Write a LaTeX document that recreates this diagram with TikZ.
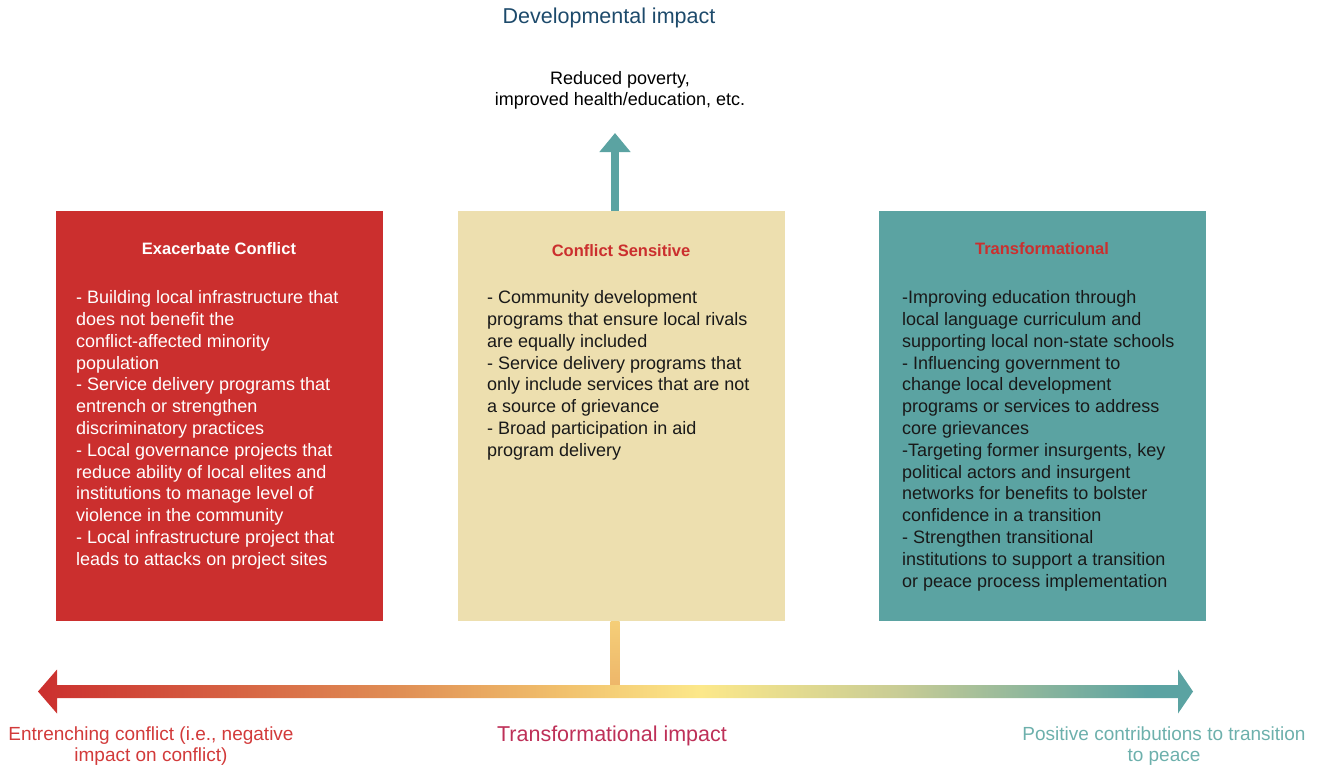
\documentclass[tikz,border=0pt]{standalone}
\usepackage{fontspec}
\setmainfont{Liberation Sans}
\usetikzlibrary{arrows.meta}

\definecolor{conflictred}{HTML}{CB2F2E}
\definecolor{sensitivesand}{HTML}{EDDFAF}
\definecolor{peaceteal}{HTML}{5BA3A2}
\definecolor{devblue}{HTML}{1D4A6B}
\definecolor{transcrimson}{HTML}{BE3058}
\definecolor{labelred}{HTML}{D23A3A}
\definecolor{labelteal}{HTML}{6DB0AC}
\definecolor{impactorange}{HTML}{E08F55}
\definecolor{impactgold}{HTML}{F1C06C}
\definecolor{impactyellow}{HTML}{FCE88A}
\definecolor{impactsage}{HTML}{C8CC95}
\definecolor{bartop}{HTML}{F5CE78}
\definecolor{barbottom}{HTML}{EDB468}

\pgfdeclarehorizontalshading{impactbar}{100bp}{color(0bp)=(conflictred);
  color(25bp)=(conflictred); color(40.7bp)=(impactorange);
  color(47.6bp)=(impactgold); color(53.7bp)=(impactyellow);
  color(62.3bp)=(impactsage); color(73bp)=(peaceteal);
  color(75bp)=(peaceteal); color(100bp)=(peaceteal)}

\begin{document}
\begin{tikzpicture}[
      x=1pt, y=-1pt,
      box/.style={rectangle, anchor=north west, inner sep=0pt,
        minimum width=327pt, minimum height=410pt},
      boxtitle/.style={font=\fontsize{16.5}{20}\selectfont\bfseries},
      boxtext/.style={anchor=north west, align=left, inner sep=0pt,
        font=\fontsize{18}{21.8}\selectfont},
      axislabel/.style={font=\fontsize{21.5}{25}\selectfont},
      endlabel/.style={align=center, font=\fontsize{18}{21}\selectfont},
      sidelabel/.style={align=center, font=\fontsize{19}{21}\selectfont},
      uparrow/.style={draw=peaceteal, line width=8pt,
        -{Triangle[width=30pt,length=19pt]}}
    ]
    \useasboundingbox (0,0) rectangle (1327,766);
    % boxes
    \path (56,211)  node(exbox) [box, fill=conflictred] {}
          (458,211) node(csbox) [box, fill=sensitivesand] {}
          (879,211) node(trbox) [box, fill=peaceteal] {};
    \path (219,249)  node(extitle) [boxtitle, text=white] {Exacerbate Conflict}
          (621,251)  node(cstitle) [boxtitle, text=conflictred] {Conflict Sensitive}
          (1042,249) node(trtitle) [boxtitle, text=conflictred] {Transformational};
    \path (76,290.5) node(extext) [boxtext, text=white]
      {- Building local infrastructure that\\ does not benefit the\\
       conflict-affected minority\\ population\\
       - Service delivery programs that\\ entrench or strengthen\\
       discriminatory practices\\
       - Local governance projects that\\ reduce ability of local elites and\\
       institutions to manage level of\\ violence in the community\\
       - Local infrastructure project that\\ leads to attacks on project sites};
    \path (487,290.5) node(cstext) [boxtext, text=black!90]
      {- Community development\\ programs that ensure local rivals\\
       are equally included\\
       - Service delivery programs that\\ only include services that are not\\
       a source of grievance\\
       - Broad participation in aid\\ program delivery};
    \path (902,290.5) node(trtext) [boxtext, text=black!90]
      {-Improving education through\\ local language curriculum and\\
       supporting local non-state schools\\
       - Influencing government to\\ change local development\\
       programs or services to address\\ core grievances\\
       -Targeting former insurgents, key\\ political actors and insurgent\\
       networks for benefits to bolster\\ confidence in a transition\\
       - Strengthen transitional\\ institutions to support a transition\\
       or peace process implementation};

    % developmental axis
    \path (609,18) node(devtitle) [axislabel, text=devblue] {Developmental impact}
          (620,90) node(devtext) [endlabel, text=black]
            {Reduced poverty,\\ improved health/education, etc.};
    \coordinate (devtip) at (615,133);
    \draw[uparrow] (csbox.north -| devtip) -- (devtip);

    % transformational axis
    \coordinate (axis) at (615,691.5);
    \coordinate (lefttip) at (38,691.5);
    \coordinate (righttip) at (1193,691.5);
    \shade[top color=bartop, bottom color=barbottom]
      ([xshift=-4.5pt]csbox.south -| axis) rectangle ([xshift=4.5pt]axis);
    \shade[shading=impactbar] (lefttip) -- ++(19,-22) -- ++(0,15.5)
      -- ++(1121,0) -- ++(0,-15.5) -- (righttip) -- ++(-15,22)
      -- ++(0,-15.5) -- ++(-1121,0) -- ++(0,15.5) -- cycle;
    \path (612,736) node(transtitle) [axislabel, text=transcrimson] {Transformational impact}
          (151,746.5) node(neglabel) [sidelabel, text=labelred]
            {Entrenching conflict (i.e., negative\\ impact on conflict)}
          (1164,746.5) node(poslabel) [sidelabel, text=labelteal]
            {Positive contributions to transition\\ to peace};
  \end{tikzpicture}
\end{document}
